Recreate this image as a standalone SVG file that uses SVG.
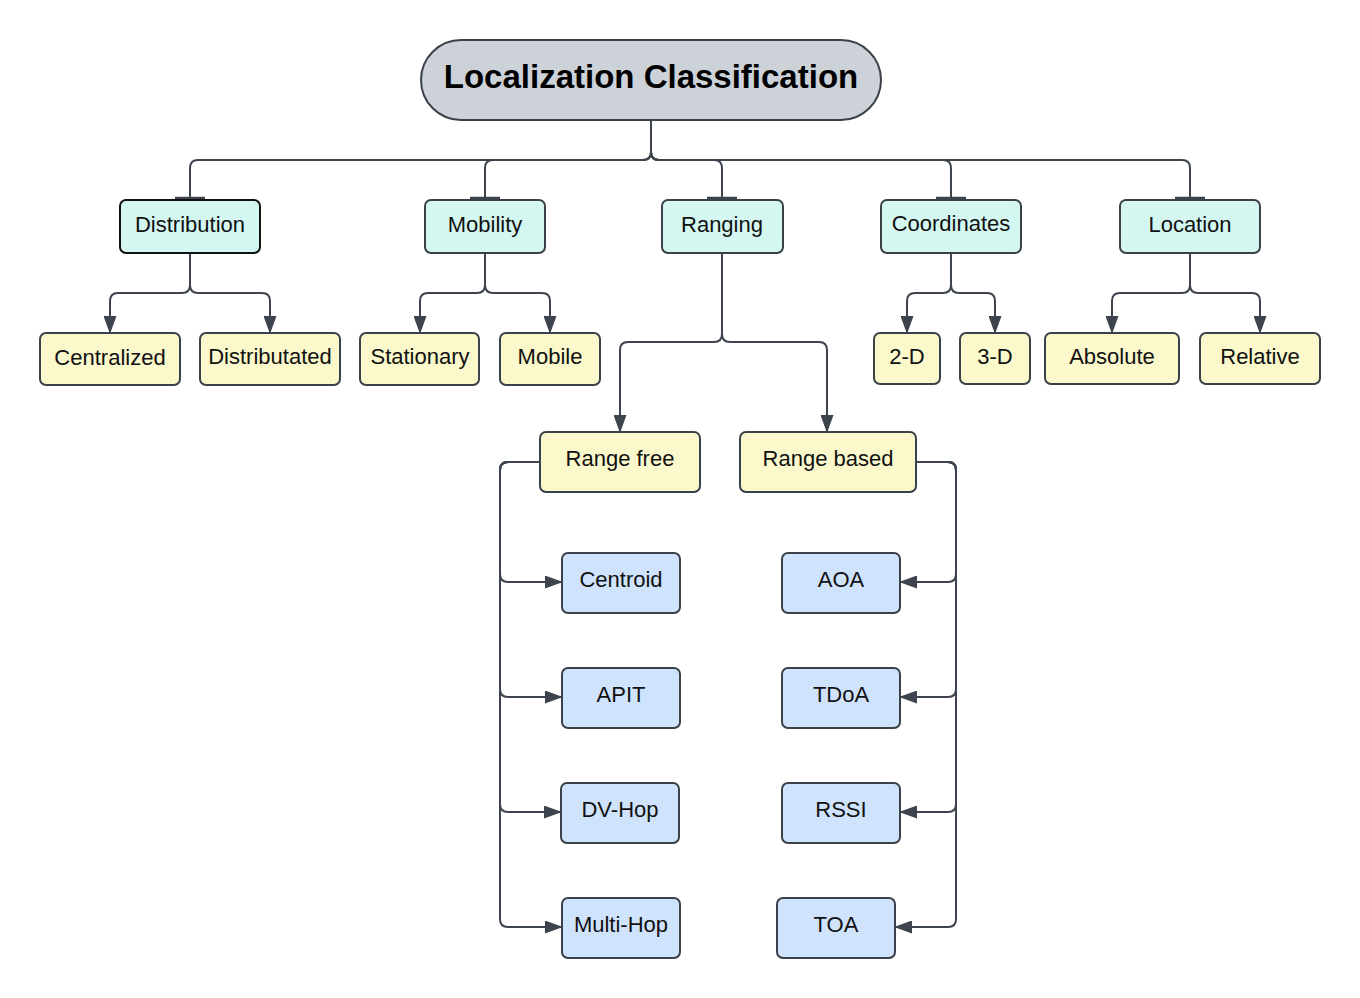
<svg xmlns="http://www.w3.org/2000/svg" width="1360" height="998" viewBox="0 0 1360 998">
<defs>
<style>
.box{stroke:#3b4149;stroke-width:2}
.l1{fill:#d5f7f2}
.l2{fill:#fbf8cc}
.l3{fill:#cfe3fd}
.t{font-family:"Liberation Sans",Arial,sans-serif;font-size:22px;fill:#111;text-anchor:middle}
.c{fill:none;stroke:#3d444e;stroke-width:2}
.a{marker-end:url(#arr)}
.b{marker-end:url(#bar)}
</style>
<marker id="arr" markerUnits="userSpaceOnUse" viewBox="0 0 18 13" refX="17" refY="6.5" markerWidth="18" markerHeight="13" orient="auto">
<path d="M0,0 L18,6.5 L0,13 z" fill="#3d444e"/>
</marker>
<marker id="bar" markerUnits="userSpaceOnUse" viewBox="-2 -16 4 32" refX="0" refY="0" markerWidth="4" markerHeight="32" orient="auto">
<path d="M0,-15 V15" stroke="#3d444e" stroke-width="2.5"/>
</marker>
</defs>
<rect width="1360" height="998" fill="#ffffff"/>
<g id="connectors">
<path class="c b" d="M651,120 V152 Q651,160 643,160 H198 Q190,160 190,168 V198"/>
<path class="c b" d="M651,120 V152 Q651,160 643,160 H493 Q485,160 485,168 V198"/>
<path class="c b" d="M651,120 V152 Q651,160 659,160 H714 Q722,160 722,168 V198"/>
<path class="c b" d="M651,120 V152 Q651,160 659,160 H943 Q951,160 951,168 V198"/>
<path class="c b" d="M651,120 V152 Q651,160 659,160 H1182 Q1190,160 1190,168 V198"/>
<path class="c a" d="M190,253 V285 Q190,293 182,293 H118 Q110,293 110,301 V333"/>
<path class="c a" d="M190,253 V285 Q190,293 198,293 H262 Q270,293 270,301 V333"/>
<path class="c a" d="M485,253 V285 Q485,293 477,293 H428 Q420,293 420,301 V333"/>
<path class="c a" d="M485,253 V285 Q485,293 493,293 H542 Q550,293 550,301 V333"/>
<path class="c a" d="M951,253 V285 Q951,293 943,293 H915 Q907,293 907,301 V333"/>
<path class="c a" d="M951,253 V285 Q951,293 959,293 H987 Q995,293 995,301 V333"/>
<path class="c a" d="M1190,253 V285 Q1190,293 1182,293 H1120 Q1112,293 1112,301 V333"/>
<path class="c a" d="M1190,253 V285 Q1190,293 1198,293 H1252 Q1260,293 1260,301 V333"/>
<path class="c a" d="M722,253 V334 Q722,342 714,342 H628 Q620,342 620,350 V432"/>
<path class="c a" d="M722,253 V334 Q722,342 730,342 H819 Q827,342 827,350 V432"/>
<path class="c a" d="M540,462 H508 Q500,462 500,470 V574 Q500,582 508,582 H562"/>
<path class="c a" d="M540,462 H508 Q500,462 500,470 V689 Q500,697 508,697 H562"/>
<path class="c a" d="M540,462 H508 Q500,462 500,470 V804 Q500,812 508,812 H561"/>
<path class="c a" d="M540,462 H508 Q500,462 500,470 V919 Q500,927 508,927 H562"/>
<path class="c a" d="M916,462 H948 Q956,462 956,470 V574 Q956,582 948,582 H900"/>
<path class="c a" d="M916,462 H948 Q956,462 956,470 V689 Q956,697 948,697 H900"/>
<path class="c a" d="M916,462 H948 Q956,462 956,470 V804 Q956,812 948,812 H900"/>
<path class="c a" d="M916,462 H948 Q956,462 956,470 V919 Q956,927 948,927 H895"/>
</g>
<g id="title">
<rect x="421" y="40" width="460" height="80" rx="40" fill="#cdd2d9" class="box"/>
<text x="651" y="88" class="t" style="font-size:33px;font-weight:bold;fill:#000">Localization Classification</text>
</g>
<g id="distribution"><rect x="120" y="200" width="140" height="53" rx="6" class="box l1" style="stroke:#111"/><text x="190" y="232" class="t">Distribution</text></g>
<g id="mobility"><rect x="425" y="200" width="120" height="53" rx="6" class="box l1"/><text x="485" y="232" class="t">Mobility</text></g>
<g id="ranging"><rect x="662" y="200" width="121" height="53" rx="6" class="box l1"/><text x="722" y="232" class="t">Ranging</text></g>
<g id="coordinates"><rect x="881" y="200" width="140" height="53" rx="6" class="box l1"/><text x="951" y="231" class="t">Coordinates</text></g>
<g id="location"><rect x="1120" y="200" width="140" height="53" rx="6" class="box l1"/><text x="1190" y="232" class="t">Location</text></g>
<g id="centralized"><rect x="40" y="333" width="140" height="52" rx="6" class="box l2"/><text x="110" y="365" class="t">Centralized</text></g>
<g id="distributated"><rect x="200" y="333" width="140" height="52" rx="6" class="box l2"/><text x="270" y="364" class="t">Distributated</text></g>
<g id="stationary"><rect x="360" y="333" width="119" height="52" rx="6" class="box l2"/><text x="420" y="364" class="t">Stationary</text></g>
<g id="mobile"><rect x="500" y="333" width="100" height="52" rx="6" class="box l2"/><text x="550" y="364" class="t">Mobile</text></g>
<g id="d2"><rect x="874" y="333" width="66" height="51" rx="6" class="box l2"/><text x="907" y="364" class="t">2-D</text></g>
<g id="d3"><rect x="960" y="333" width="70" height="51" rx="6" class="box l2"/><text x="995" y="364" class="t">3-D</text></g>
<g id="absolute"><rect x="1045" y="333" width="134" height="51" rx="6" class="box l2"/><text x="1112" y="364" class="t">Absolute</text></g>
<g id="relative"><rect x="1200" y="333" width="120" height="51" rx="6" class="box l2"/><text x="1260" y="364" class="t">Relative</text></g>
<g id="rangefree"><rect x="540" y="432" width="160" height="60" rx="6" class="box l2"/><text x="620" y="466" class="t">Range free</text></g>
<g id="rangebased"><rect x="740" y="432" width="176" height="60" rx="6" class="box l2"/><text x="828" y="466" class="t">Range based</text></g>
<g id="centroid"><rect x="562" y="553" width="118" height="60" rx="6" class="box l3"/><text x="621" y="587" class="t">Centroid</text></g>
<g id="apit"><rect x="562" y="668" width="118" height="60" rx="6" class="box l3"/><text x="621" y="702" class="t">APIT</text></g>
<g id="dvhop"><rect x="561" y="783" width="118" height="60" rx="6" class="box l3"/><text x="620" y="817" class="t">DV-Hop</text></g>
<g id="multihop"><rect x="562" y="898" width="118" height="60" rx="6" class="box l3"/><text x="621" y="932" class="t">Multi-Hop</text></g>
<g id="aoa"><rect x="782" y="553" width="118" height="60" rx="6" class="box l3"/><text x="841" y="587" class="t">AOA</text></g>
<g id="tdoa"><rect x="782" y="668" width="118" height="60" rx="6" class="box l3"/><text x="841" y="702" class="t">TDoA</text></g>
<g id="rssi"><rect x="782" y="783" width="118" height="60" rx="6" class="box l3"/><text x="841" y="817" class="t">RSSI</text></g>
<g id="toa"><rect x="777" y="898" width="118" height="60" rx="6" class="box l3"/><text x="836" y="932" class="t">TOA</text></g>
</svg>
